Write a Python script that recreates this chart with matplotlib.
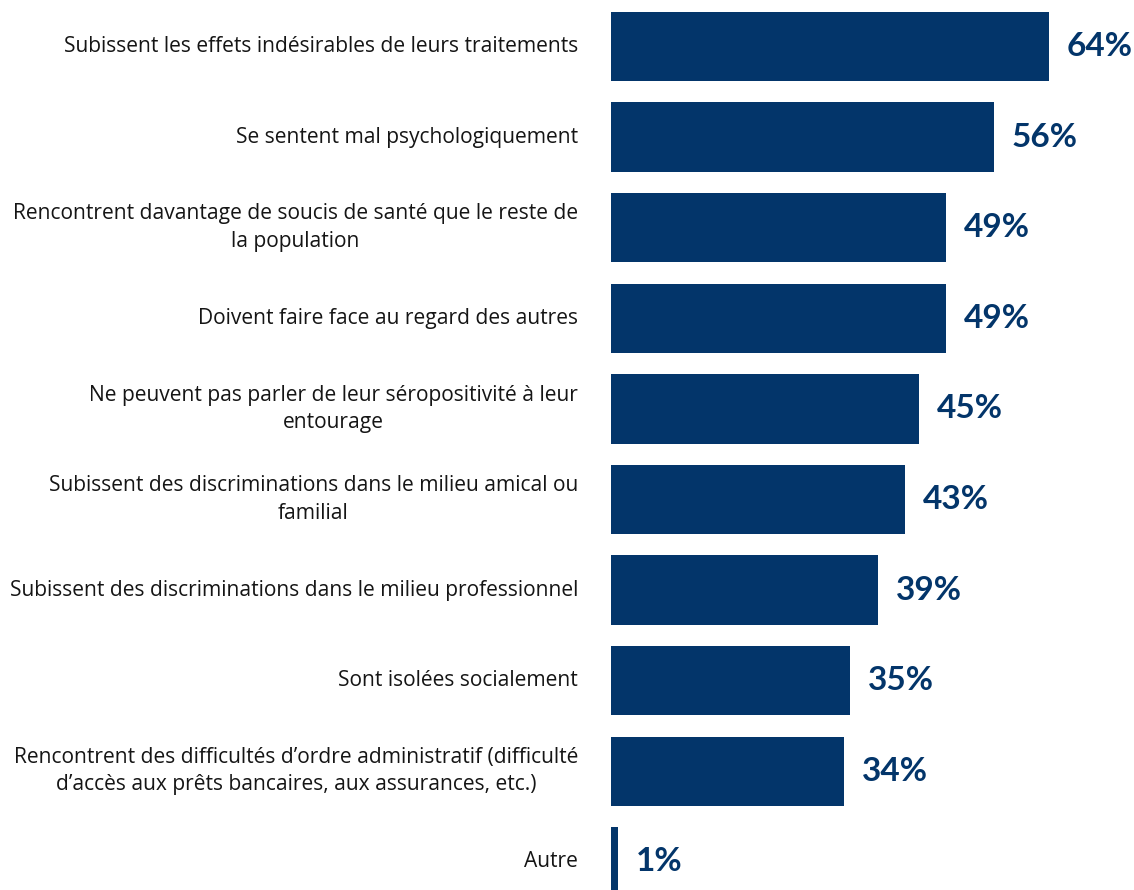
import matplotlib
matplotlib.use("Agg")
import matplotlib.pyplot as plt

categories = [
    "Subissent les effets indésirables de leurs traitements",
    "Se sentent mal psychologiquement",
    "Rencontrent davantage de soucis de santé que le reste de\nla population",
    "Doivent faire face au regard des autres",
    "Ne peuvent pas parler de leur séropositivité à leur\nentourage",
    "Subissent des discriminations dans le milieu amical ou\nfamilial",
    "Subissent des discriminations dans le milieu professionnel",
    "Sont isolées socialement",
    "Rencontrent des difficultés d\u2019ordre administratif (difficulté\nd\u2019accès aux prêts bancaires, aux assurances, etc.)",
    "Autre",
]
values = [64, 56, 49, 49, 45, 43, 39, 35, 34, 1]

NAVY = "#03356A"
W, H, DPI = 1134, 890, 100
fig = plt.figure(figsize=(W / DPI, H / DPI), dpi=DPI)
fig.patch.set_facecolor("white")

ax_left = 611
px_per_unit = 6.84
spacing = 90.6
first_center = 46.5
ax = fig.add_axes([ax_left / W, 0, (W - ax_left) / W, 1])
ax.set_xlim(0, (W - ax_left) / px_per_unit)
ax.set_ylim((H - first_center) / spacing, -first_center / spacing)

ypos = list(range(len(values)))
ax.barh(ypos, values, height=0.767, color=NAVY, edgecolor="none")

for y, v, c in zip(ypos, values, categories):
    ax.text(v + 18 / px_per_unit, y, f"{v}%", va="center", ha="left",
            fontsize=24, fontweight="bold", color=NAVY, family="Lato")
    ax.text(-33 / px_per_unit, y, c, va="center", ha="right", multialignment="center",
            fontsize=15.1, color="#151515", family="Open Sans", linespacing=1.4, clip_on=False)

ax.axis("off")
fig.savefig("out.png", dpi=DPI, facecolor="white")
